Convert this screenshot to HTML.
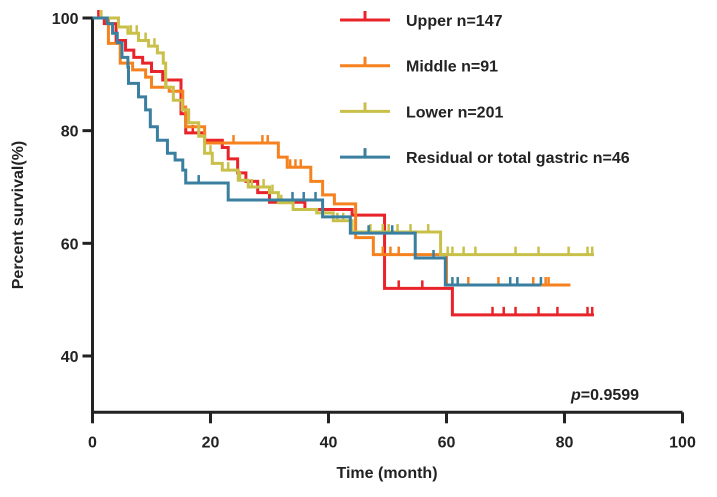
<!DOCTYPE html>
<html><head><meta charset="utf-8"><style>
body{margin:0;background:#fff}
svg{display:block;font-family:"Liberation Sans",Arial,sans-serif;font-weight:bold}
</style></head><body>
<svg id="chart" width="717" height="497" viewBox="0 0 717 497">
<g id="axes"></g>
<g id="series"></g>
<g id="legend"></g>
<text x="23" y="215" transform="rotate(-90 23 215)" font-size="16" fill="#222" text-anchor="middle">Percent survival(%)</text>
<text x="387" y="478" font-size="16" fill="#222" text-anchor="middle">Time (month)</text>
<text x="571" y="400" font-size="16" fill="#222"><tspan font-style="italic">p</tspan>=0.9599</text>
</svg>
<script>
const xTicks=[0,20,40,60,80,100];
const yTicks=[40,60,80,100];
const seriesNames=["Upper n=147","Middle n=91","Lower n=201","Residual or total gastric n=46"];
const seriesColors=["#e8242a","#f5821f","#c9c04a","#3a7fa0"];
const upperT=[0,2,4,5.6,7,8.5,10,11.9,15,15.8,19,22,23,24.6,26,28,30,36,44,49.5,61,85];
const upperS=[100,99,96,94.3,93,92,90.5,89,83,79.6,78.3,77,75,72.5,71,69,67.3,66,65,52,47.3,47.3];
const middleT=[0,2.7,4.7,6.8,9,10,13,15.3,15.8,19,31,31.5,33,37,39,41,44.6,47.6,60,81];
const middleS=[100,95.5,92,90.8,89.5,87.7,87,84.2,80.7,77.8,77.8,75.3,73.5,71,68.6,67,61,58,52.6,52.6];
const lowerT=[0,4.4,6,7.8,9.5,11,12,12.4,13.7,15.2,16.3,18,19,20.3,22,24.7,26.4,30,31.5,34,38,40.8,44,59,85];
const lowerS=[100,98.4,97.3,96,95,93.8,92,87.7,85.4,83.7,81.4,79,76,74.2,73,71.2,70,69,67.2,66,65.4,64,62,58,58];
const residualT=[0,2.5,3.4,4.2,5,6,6.1,7.8,9,9.8,11,12.7,14,15.3,15.8,23,39,43.7,54.7,59.8,76];
const residualS=[100,99,97.3,95.6,93,91.3,88.4,86,83.7,80.7,78.3,76,74.8,73,70.7,67.7,64.7,61.8,57.4,52.6,52.6];
const upperCens=[1,12,17,22,51.9,55.9,67.8,69.7,71.7,75.6,78.8,83.9,84.7];
const middleCens=[23.9,28.8,29.7,33.5,34.4,35.3,49.2,50.5,51.9,63.7,68.8,74.7,76.8,77.3];
const lowerCens=[1.5,6.5,7.5,9,10.5,12.5,20,23,25,27,29,30.5,32,41.5,42.5,47.1,49.2,50.2,51.7,53.9,56.9,60.2,61,62.9,64.9,71.7,75.6,80.7,83.9,84.7];
const residualCens=[18,33.9,35.8,37.8,46.8,50.8,57.8,61,61.9,70.8,72,76];
const NS="http://www.w3.org/2000/svg";
function X(t){return 92.5+t*5.9;}
function Y(s){return 18+(100-s)*5.633;}
function mk(tag,attrs,parent){const e=document.createElementNS(NS,tag);for(const k in attrs)e.setAttribute(k,attrs[k]);parent.appendChild(e);return e;}
const ax=document.getElementById('axes');
let a=mk('path',{d:`M${X(0)} ${Y(100)}V${Y(30)}H${X(100)}`,stroke:'#222','stroke-width':3,fill:'none'},ax);


xTicks.forEach(t=>{
 const l=mk('line',{x1:X(t),x2:X(t),y1:Y(30),y2:Y(30)+11,stroke:'#222','stroke-width':3},ax);
 
 
 const tx=mk('text',{x:X(t),y:Y(30)+35,'font-size':16,fill:'#222','text-anchor':'middle'},ax);tx.textContent=t;
 
 
});
yTicks.forEach(s=>{
 const l=mk('line',{x1:X(0)-10,x2:X(0),y1:Y(s),y2:Y(s),stroke:'#222','stroke-width':3},ax);
 
 
 const tx=mk('text',{x:X(0)-14,y:Y(s)+6,'font-size':16,fill:'#222','text-anchor':'end'},ax);tx.textContent=s;
 
 
});
function stepAt(T,S,t){let v=S[0];for(let i=0;i<T.length;i++){if(T[i]<=t)v=S[i];}return v;}
const sg=document.getElementById('series');
const all=[[upperT,upperS,upperCens],[middleT,middleS,middleCens],[lowerT,lowerS,lowerCens],[residualT,residualS,residualCens]];
const keys=['upper','middle','lower','residual'];
all.forEach((d,k)=>{
 const [T,S,C]=d;
 let p=`M${X(T[0])} ${Y(S[0])}`;
 for(let i=1;i<T.length;i++){p+=`H${X(T[i])}V${Y(S[i])}`;}
 const g=mk('g',{},sg);
 
 
 const pa=mk('path',{d:p,stroke:seriesColors[k],'stroke-width':3,fill:'none'},g);
 
 
 C.forEach(t=>{
  const y=Y(stepAt(T,S,t));
  const c=mk('line',{x1:X(t),x2:X(t),y1:y,y2:y-8,stroke:seriesColors[k],'stroke-width':2.5},g);
  
  
 });
});
const lg=document.getElementById('legend');
seriesNames.forEach((n,i)=>{
 const y=20+i*45.7;
 const g=mk('g',{},lg);
 
 
 mk('line',{x1:340,x2:390,y1:y,y2:y,stroke:seriesColors[i],'stroke-width':3},g);
 mk('line',{x1:365,x2:365,y1:y,y2:y-9,stroke:seriesColors[i],'stroke-width':3},g);
 const t=mk('text',{x:406,y:y+6,'font-size':16,fill:'#222'},g);t.textContent=n;
});
</script>
</body></html>
